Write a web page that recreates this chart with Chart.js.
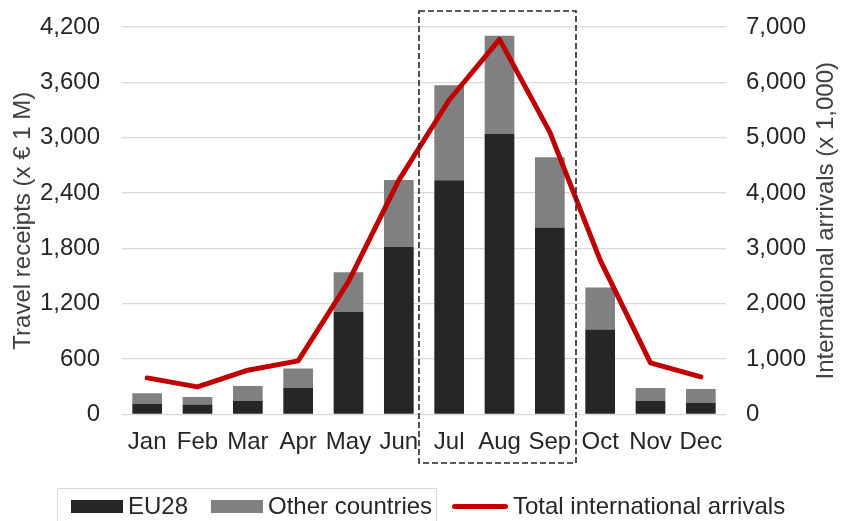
<!DOCTYPE html>
<html>
<head>
<meta charset="utf-8">
<script src="https://cdn.jsdelivr.net/npm/chart.js@4/dist/chart.umd.min.js"></script>
<style>
  html, body { margin: 0; padding: 0; background: #fff; }
  #wrap { position: relative; width: 846px; height: 521px; overflow: hidden; }
  #chart { position: absolute; left: 0; top: 0; }
  .legend-frame { position: absolute; left: 57px; top: 488px; width: 380px; height: 45px;
                  border: 1px solid #d9d9d9; box-sizing: border-box; }
  .legend-item { position: absolute; top: 492px; height: 28px; display: flex; align-items: center;
                 font-family: 'Liberation Sans', Arial, sans-serif; font-size: 24px; color: #262626;
                 white-space: nowrap; }
  .legend-item .sw { display: inline-block; margin-right: 5px; }
</style>
</head>
<body>
<div id="wrap">
  <canvas id="chart" width="846" height="521"></canvas>
  <div id="legend"></div>
</div>
<script>
// Monthly travel receipts (x € 1 M) split by origin, and total international arrivals (x 1,000)
const months = ['Jan', 'Feb', 'Mar', 'Apr', 'May', 'Jun', 'Jul', 'Aug', 'Sep', 'Oct', 'Nov', 'Dec'];
const eu28 = [115, 108, 150, 289, 1113, 1818, 2540, 3040, 2028, 920, 146, 125];
const otherCountries = [116, 83, 160, 210, 430, 723, 1030, 1066, 759, 457, 141, 151];
const totalArrivals = [661, 499, 800, 969, 2400, 4235, 5681, 6777, 5100, 2789, 933, 680];

// axis ranges and titles
const receiptsMax = 4200, receiptsStep = 600;
const arrivalsMax = 7000, arrivalsStep = 1000;
const receiptsTitle = 'Travel receipts (x € 1 M)';
const arrivalsTitle = 'International arrivals (x 1,000)';

// peak season framed with a dashed box
const seasonStart = 'Jul';
const seasonEnd = 'Sep';

const FONT = "'Liberation Sans', Arial, sans-serif";
const FONT_SIZE = 24;
Chart.defaults.font.family = FONT;
Chart.defaults.font.size = FONT_SIZE;
Chart.defaults.color = '#404040';

const seasonBox = {
  id: 'seasonBox',
  afterDatasetsDraw(chart) {
    const x = chart.scales.x;
    const i0 = months.indexOf(seasonStart), i1 = months.indexOf(seasonEnd);
    const half = (x.getPixelForValue(1) - x.getPixelForValue(0)) / 2;
    const left = x.getPixelForValue(i0) - half - 5;
    const right = x.getPixelForValue(i1) + half + 1;
    const top = 11, bottom = 463;
    const ctx = chart.ctx;
    ctx.save();
    ctx.strokeStyle = '#262626';
    ctx.lineWidth = 1.6;
    ctx.setLineDash([6, 3]);
    ctx.strokeRect(left, top, right - left, bottom - top);
    ctx.restore();
  }
};

// right-hand axis title, reading bottom to top like the left one
const rightTitle = {
  id: 'rightTitle',
  afterDraw(chart) {
    const area = chart.chartArea;
    const ctx = chart.ctx;
    ctx.save();
    ctx.translate(826.5, (area.top + area.bottom) / 2);
    ctx.rotate(-Math.PI / 2);
    ctx.font = FONT_SIZE + 'px ' + FONT;
    ctx.fillStyle = '#404040';
    ctx.textAlign = 'center';
    ctx.textBaseline = 'middle';
    ctx.fillText(arrivalsTitle, 0, 0);
    ctx.restore();
  }
};

const noVerticalOverflow = s => { s.paddingTop = 0; s.paddingBottom = 0; };

const chart = new Chart(document.getElementById('chart'), {
  data: {
    labels: months,
    datasets: [
      { type: 'bar', label: 'EU28', data: eu28, backgroundColor: '#262626',
        stack: 'receipts', yAxisID: 'y', order: 2 },
      { type: 'bar', label: 'Other countries', data: otherCountries, backgroundColor: '#808080',
        stack: 'receipts', yAxisID: 'y', order: 2 },
      { type: 'line', label: 'Total international arrivals', data: totalArrivals,
        borderColor: '#C00000', backgroundColor: '#C00000', borderWidth: 5,
        pointRadius: 0, tension: 0, borderJoinStyle: 'round', borderCapStyle: 'round',
        yAxisID: 'y1', order: 1 }
    ]
  },
  options: {
    responsive: false,
    animation: false,
    layout: { padding: { top: 27, left: 0, right: 0, bottom: 66.5 } },
    datasets: { bar: { barPercentage: 0.59, categoryPercentage: 1 } },
    plugins: { legend: { display: false }, tooltip: { enabled: false } },
    scales: {
      x: {
        stacked: true,
        grid: { display: false, drawTicks: false },
        border: { display: false },
        ticks: { padding: 13, color: '#262626', autoSkip: false, maxRotation: 0, minRotation: 0 },
        afterFit(s) { s.height = 40; }
      },
      y: {
        position: 'left',
        stacked: true,
        min: 0, max: receiptsMax,
        ticks: { stepSize: receiptsStep, padding: 22, color: '#262626' },
        grid: { color: '#d9d9d9', lineWidth: 1.3, drawTicks: false },
        border: { display: false },
        title: { display: true, text: receiptsTitle, color: '#404040',
                 padding: { top: 9, bottom: 0 } },
        afterFit(s) { s.width = 122; noVerticalOverflow(s); }
      },
      y1: {
        position: 'right',
        min: 0, max: arrivalsMax,
        ticks: { stepSize: arrivalsStep, padding: 20, color: '#262626' },
        grid: { display: false, drawTicks: false },
        border: { display: false },
        title: { display: false },
        afterFit(s) { s.width = 120; noVerticalOverflow(s); }
      }
    }
  },
  plugins: [seasonBox, rightTitle]
});

// Legend built from the chart's own datasets
(function buildLegend() {
  const host = document.getElementById('legend');
  const frame = document.createElement('div');
  frame.className = 'legend-frame';
  host.appendChild(frame);
  const lefts = [71, 211, 452];
  chart.data.datasets.forEach((ds, i) => {
    const item = document.createElement('div');
    item.className = 'legend-item';
    item.style.left = lefts[i] + 'px';
    const sw = document.createElement('span');
    sw.className = 'sw';
    if (ds.type === 'line') {
      sw.style.width = '56px'; sw.style.height = '5px';
      sw.style.borderRadius = '3px';
      sw.style.background = ds.borderColor;
    } else {
      sw.style.width = '52px'; sw.style.height = '13px';
      sw.style.background = ds.backgroundColor;
    }
    item.appendChild(sw);
    const t = document.createElement('span');
    t.textContent = ds.label;
    item.appendChild(t);
    host.appendChild(item);
  });
})();
</script>
</body>
</html>
